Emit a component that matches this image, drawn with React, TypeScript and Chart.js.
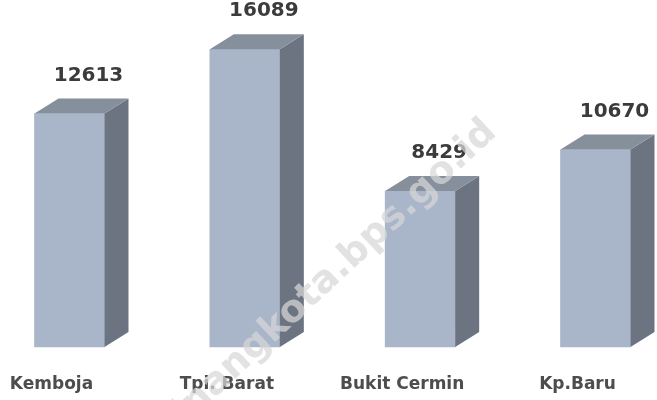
import React, { useEffect, useRef } from "react";
import { Chart, registerables } from "chart.js";

Chart.register(...registerables);

const categories = ["Kemboja", "Tpi. Barat", "Bukit Cermin", "Kp.Baru"];
const values = [12613, 16089, 8429, 10670];
const valueLabels = ["12613", "16089", "8429", "10670"];
const watermarkText = "tanjungpinangkota.bps.go.id";

const FRONT = "#a9b5c9";
const SIDE = "#6c7481";
const TOP = "#868f9c";
const DX = 24;
const DY = 15;

const bar3dPlugin = {
  id: "bar3d",
  afterDatasetsDraw(chart: any) {
    const ctx = chart.ctx;
    const meta = chart.getDatasetMeta(0);
    ctx.save();
    meta.data.forEach((bar: any, i: number) => {
      const w = bar.width;
      const left = bar.x - w / 2;
      const right = bar.x + w / 2;
      const top = bar.y;
      const base = bar.base;
      ctx.fillStyle = SIDE;
      ctx.beginPath();
      ctx.moveTo(right, top);
      ctx.lineTo(right + DX, top - DY);
      ctx.lineTo(right + DX, base - DY);
      ctx.lineTo(right, base);
      ctx.closePath();
      ctx.fill();
      ctx.fillStyle = TOP;
      ctx.beginPath();
      ctx.moveTo(left, top);
      ctx.lineTo(left + DX, top - DY);
      ctx.lineTo(right + DX, top - DY);
      ctx.lineTo(right, top);
      ctx.closePath();
      ctx.fill();
      ctx.fillStyle = "#3b3b3b";
      ctx.font = "bold 20px 'DejaVu Sans', sans-serif";
      ctx.textAlign = "center";
      ctx.textBaseline = "middle";
      ctx.fillText(valueLabels[i], bar.x + 19, top - 38);
    });
    ctx.restore();
  },
  afterDraw(chart: any) {
    const ctx = chart.ctx;
    ctx.save();
    ctx.translate(498, 134);
    ctx.rotate((-43 * Math.PI) / 180);
    ctx.font = "bold 38px 'DejaVu Sans', sans-serif";
    ctx.fillStyle = "rgba(215,215,215,0.72)";
    ctx.textAlign = "right";
    ctx.textBaseline = "alphabetic";
    ctx.fillText(watermarkText, 0, 0);
    ctx.restore();
  },
};

export default function App() {
  const ref = useRef<HTMLCanvasElement | null>(null);
  useEffect(() => {
    if (!ref.current) return;
    const chart = new Chart(ref.current, {
      type: "bar",
      data: {
        labels: categories,
        datasets: [
          {
            data: values,
            backgroundColor: FRONT,
            borderWidth: 0,
            barThickness: 70,
            clip: false,
          } as any,
        ],
      },
      options: {
        responsive: false,
        animation: false,
        layout: { padding: { left: 69.5, right: 61.5, top: 0, bottom: 0.6 } },
        plugins: { legend: { display: false }, tooltip: { enabled: false } },
        scales: {
          x: {
            offset: false,
            grid: { display: false, drawTicks: false },
            border: { display: false },
            afterFit: (s: any) => {
              s.paddingLeft = 0;
              s.paddingRight = 0;
            },
            ticks: {
              padding: 27,
              labelOffset: -18,
              color: "#4d4d4d",
              font: { family: "'DejaVu Sans', sans-serif", size: 17, weight: "bold" },
              maxRotation: 0,
              autoSkip: false,
            },
          },
          y: { display: false, min: 0, max: 18750 },
        },
      },
      plugins: [bar3dPlugin],
    });
    return () => chart.destroy();
  }, []);
  return (
    <div
      style={{
        position: "absolute",
        left: 0,
        top: 0,
        width: 657,
        height: 400,
        overflow: "hidden",
        background: "#fff",
      }}
    >
      <canvas ref={ref} width={657} height={422} style={{ display: "block" }} />
    </div>
  );
}
